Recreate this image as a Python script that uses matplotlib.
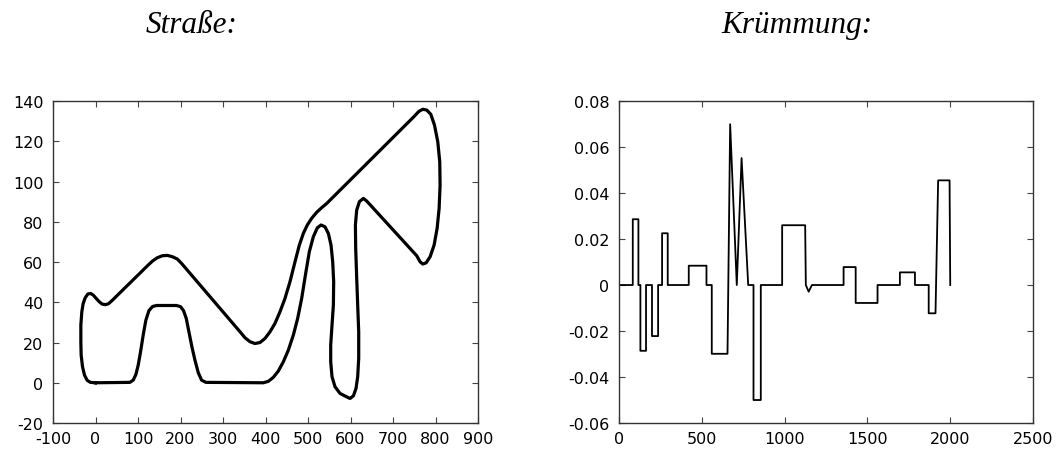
import matplotlib
matplotlib.use("Agg")
import matplotlib.pyplot as plt

# Straße: closed track
track_x = [0, 80.8, 88.7, 95, 100.5, 106, 112.2, 118.5, 125.6, 134.2, 143.6,
           190.7, 200.2, 207.2, 213.5, 219.8, 226.8, 233.9, 241.8, 249.6, 259.8,
           394.8, 406.6, 418.4, 430.1, 441.9, 453.7, 465.5, 475.7, 485.1, 494.5, 503.1,
           512.6, 522, 530.6, 540, 547.9, 554.2, 558.1, 560.4, 559.7, 556.5, 553.4,
           553.4, 556.5, 563.6, 575.4, 591, 598.9, 606.8, 613, 616.9, 619.3, 619.3,
           616.9, 614.6, 612.2, 611.5, 614.6, 620.9, 630.3, 638.1,
           755.9, 763.7, 770, 777.9, 787.3, 796.7, 803.8, 808.5, 810.8, 810, 805.3,
           797.5, 788.9, 779.4, 770, 760.6, 749.6,
           544, 532.2, 520.4, 508.6, 498.4, 489, 479.6, 469.4, 457.6, 445.8, 434.1,
           422.3, 410.5, 398.7, 387, 375.2, 363.4, 351.6, 341.4,
           202.5, 192.3, 181.3, 168.8, 157, 145.2, 134.2, 124,
           37.7, 30.6, 23.5, 15.7, 8.6, 1.6, -5.5, -11.8, -18.1, -24.3, -29, -32.2,
           -34.5, -34.5, -33.8, -30.6, -25.9, -19.6, -11.8, 0]
track_y = [0, 0.2, 1.3, 4.1, 8.8, 15.4, 23.7, 31.1, 35.8, 37.9, 38.4,
           38.4, 37.8, 35.8, 32, 25.3, 17.9, 11.3, 5, 1.3, 0.2,
           0, 0.7, 2.7, 5.8, 10.4, 16.2, 23.7, 32, 41.9, 54.3, 65.1,
           72.6, 77, 78.4, 77.5, 74.2, 68.4, 60.1, 50.2, 38.6, 28.7, 18.7,
           10.4, 3, -2, -5.3, -7, -7.8, -6.5, -2.8, 3, 12.1, 25.3,
           38.6, 51.9, 66.8, 78.4, 85.8, 90, 91.6, 90.3,
           63.1, 60.1, 59, 59.6, 62.6, 68.4, 76.7, 86.6, 98.2, 109.8, 119.8,
           128.1, 133.4, 135.5, 135.9, 134.8, 132.3,
           89.1, 87, 84.7, 81.7, 78.4, 74.2, 68.4, 60.1, 50.2, 41.9, 35.3,
           29.5, 25.3, 22, 20, 19.5, 20.4, 22.4, 25,
           59.3, 61.5, 62.6, 63.3, 63.1, 62.1, 60.5, 58.5,
           40.6, 39.3, 38.8, 39.1, 40.3, 41.9, 43.6, 44.4, 44.1, 42.2, 39.4, 35.3,
           28.7, 20.4, 13.8, 8, 3.8, 1.2, 0.2, 0]

# Krümmung over arc length
s = [0, 83, 83, 117, 117, 129, 129, 163, 163, 199, 199, 236, 236, 260, 260, 294, 294,
     421, 421, 528, 528, 560, 560, 655, 671, 711, 740, 780, 812, 812, 856, 856, 985, 985,
     1124, 1128, 1145, 1165, 1356, 1356, 1429, 1429, 1561, 1561, 1696, 1696, 1787, 1787,
     1870, 1870, 1911, 1927, 1996, 2000]
k = [0, 0, 0.0286, 0.0286, 0, 0, -0.0286, -0.0286, 0, 0, -0.0222, -0.0222, 0, 0, 0.0225,
     0.0225, 0, 0, 0.0084, 0.0084, 0, 0, -0.0299, -0.0299, 0.0699, 0, 0.0552, 0, 0,
     -0.050, -0.050, 0, 0, 0.026, 0.026, 0, -0.0029, 0, 0, 0.0078, 0.0078, -0.0078,
     -0.0078, 0, 0, 0.0055, 0.0055, 0, 0, -0.0123, -0.0123, 0.0455, 0.0455, 0]

plt.rcParams['font.family'] = 'DejaVu Sans'
plt.rcParams['font.size'] = 11.5
plt.rcParams['axes.unicode_minus'] = False

fig = plt.figure(figsize=(10.58, 4.52), dpi=100)
ax1 = fig.add_axes([0.0501, 0.0619, 0.4017, 0.7124])
ax2 = fig.add_axes([0.5851, 0.0619, 0.3913, 0.7124])

ax1.plot(track_x, track_y, color='black', lw=2.3, solid_joinstyle='round')
ax1.set_xlim(-100, 900)
ax1.set_ylim(-20, 140)
ax1.set_xticks(range(-100, 901, 100))
ax1.set_yticks(range(-20, 141, 20))

ax2.plot(s, k, color='black', lw=1.3)
ax2.set_xlim(0, 2500)
ax2.set_ylim(-0.06, 0.08)
ax2.set_xticks([0, 500, 1000, 1500, 2000, 2500])
ax2.set_yticks([-0.06, -0.04, -0.02, 0, 0.02, 0.04, 0.06, 0.08])
ax2.set_yticklabels(['-0.06', '-0.04', '-0.02', '0', '0.02', '0.04', '0.06', '0.08'])

for ax in (ax1, ax2):
    ax.tick_params(direction='in', length=4, width=0.8, color='#444444',
                   top=True, right=True)
    ax.tick_params(axis='x', pad=6)
    ax.tick_params(axis='y', pad=7)
    for sp in ax.spines.values():
        sp.set_color('#333333')
        sp.set_linewidth(1.0)

fig.text(192 / 1058, 1 - 33 / 452, 'Straße:', family='Liberation Serif', style='italic',
         fontsize=22.5, ha='center', va='baseline')
fig.text(797 / 1058, 1 - 33 / 452, 'Krümmung:', family='Liberation Serif', style='italic',
         fontsize=22.5, ha='center', va='baseline')

fig.savefig('out.png', dpi=100)
